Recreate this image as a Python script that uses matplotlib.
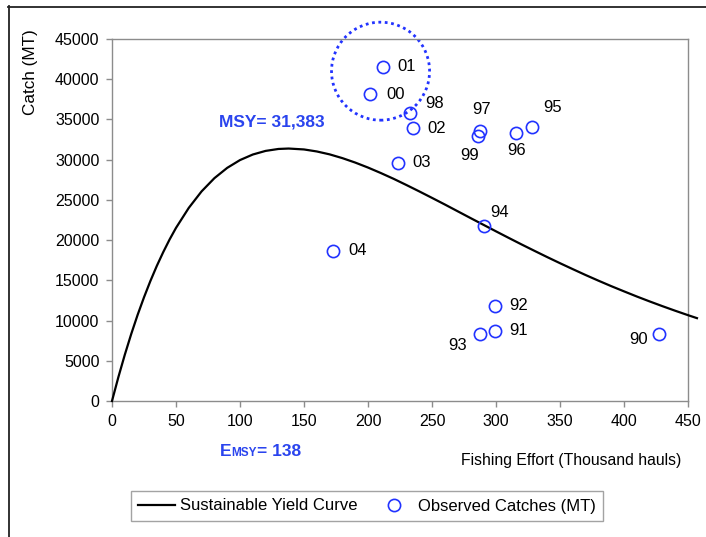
import numpy as np
import matplotlib.pyplot as plt
from matplotlib.patches import Ellipse
from matplotlib.lines import Line2D

plt.rcParams['font.family'] = ['Liberation Sans', 'DejaVu Sans']

# sustainable yield curve
curve_effort = [0, 5, 10, 15, 20, 25, 30, 35, 40, 45, 50, 60, 70, 80, 90, 100,
                110, 120, 130, 138, 150, 160, 170, 180, 190, 200, 210, 220,
                230, 240, 250, 260, 270, 280, 290, 300, 310, 320, 330, 340,
                350, 360, 370, 380, 390, 400, 410, 420, 430, 440, 450, 457]
curve_catch = [0, 2980, 5750, 8320, 10700, 12890, 14920, 16790, 18500, 20080,
               21520, 24010, 26060, 27700, 28980, 29950, 30640, 31090, 31330,
               31383, 31270, 31020, 30660, 30190, 29640, 29020, 28340, 27620,
               26850, 26060, 25250, 24430, 23590, 22750, 21920, 21090, 20270,
               19460, 18670, 17890, 17130, 16390, 15660, 14960, 14280, 13630,
               12990, 12380, 11790, 11220, 10670, 10300]

# observed catches by year
years = ['01', '00', '98', '02', '97', '99', '96', '95', '03', '94',
         '04', '92', '91', '93', '90']
obs_effort = [211.5, 201.6, 232.8, 234.9, 287.5, 286.2, 315.6, 328.1, 223.2,
              290.9, 172.7, 299.2, 299.2, 287.5, 427.3]
obs_catch = [41560, 38130, 35840, 33900, 33600, 32940, 33280, 34060, 29630,
             21800, 18690, 11810, 8740, 8290, 8330]

msy = 31383
e_msy = 138

x_ticks = [0, 50, 100, 150, 200, 250, 300, 350, 400, 450]
y_ticks = [0, 5000, 10000, 15000, 20000, 25000, 30000, 35000, 40000, 45000]

# label offsets in pixels (dx, dy down) and alignment
label_pos = {
    '01': (15, 0, 'left'), '00': (16, 0, 'left'), '98': (15, -9, 'left'),
    '02': (15, 0, 'left'), '97': (2, -21, 'center'), '99': (-9, 19, 'center'),
    '96': (1, 17, 'center'), '95': (21, -20, 'center'), '03': (15, 0, 'left'),
    '94': (6, -13, 'left'), '04': (15, 0, 'left'), '92': (14, 0, 'left'),
    '91': (14, 0, 'left'), '93': (-13, 11, 'right'), '90': (-11, 6, 'right'),
}

W, H = 706, 537
blue = '#2233ff'
txt_blue = '#2a44ee'
gray = '#8c8c8c'

fig = plt.figure(figsize=(W / 100, H / 100), dpi=100)
ax = fig.add_axes([112 / W, 1 - 401 / H, 576 / W, 362 / H])

ax.plot(curve_effort, curve_catch, color='black', lw=1.6, clip_on=False,
        label='Sustainable Yield Curve', zorder=3)
ax.plot(obs_effort, obs_catch, ls='none', marker='o', ms=8.8, mfc='none',
        mec=blue, mew=1.2, label='Observed Catches (MT)', zorder=4)

for yr, xe, yc in zip(years, obs_effort, obs_catch):
    dx, dy, ha = label_pos[yr]
    ax.annotate(yr, (xe, yc), xytext=(dx * 0.72, -dy * 0.72),
                textcoords='offset points', ha=ha, va='center', fontsize=12)

# dotted circle around recent years
ax.add_patch(Ellipse((209.8, 41000), width=76.6, height=12180, fill=False,
                     ec=blue, lw=2, ls=(0, (1, 1.3)), clip_on=False, zorder=2))

ax.set_xlim(0, 450)
ax.set_ylim(0, 45000)
ax.set_xticks(x_ticks)
ax.set_yticks(y_ticks)
ax.tick_params(direction='out', length=4, width=1, color=gray,
               labelsize=11.5, pad=5)
for s in ax.spines.values():
    s.set_color(gray)
    s.set_linewidth(1)

fig.text(30.7 / W, 1 - 72.5 / H, 'Catch (MT)', rotation=90, ha='center',
         va='center', fontsize=12.3)
fig.text(681 / W, 1 - 461 / H, 'Fishing Effort (Thousand hauls)', ha='right',
         va='center', fontsize=11.3)

fig.text(272 / W, 1 - 122 / H, f'MSY= {msy:,}', ha='center', va='center',
         fontsize=12.5, fontweight='bold', color=txt_blue)
fig.text(220 / W, 1 - 456 / H, 'E', ha='left', va='baseline',
         fontsize=12.5, fontweight='bold', color=txt_blue)
fig.text(231 / W, 1 - 456 / H, 'MSY', ha='left', va='baseline',
         fontsize=8.5, fontweight='bold', color=txt_blue)
fig.text(256.7 / W, 1 - 456 / H, f'= {e_msy}', ha='left', va='baseline',
         fontsize=12.5, fontweight='bold', color=txt_blue)

leg = fig.legend(loc='center', bbox_to_anchor=(367 / W, 1 - 506 / H), ncol=2,
                 fontsize=12, frameon=True, fancybox=False, handlelength=2.2,
                 handletextpad=0.3, columnspacing=1.1, borderpad=0.45)
leg.get_frame().set_edgecolor(gray)
leg.get_frame().set_linewidth(1)

# outer border of the chart area
fig.add_artist(Line2D([8.5 / W, 8.5 / W], [0, 1 - 6 / H], color='#222222', lw=1.3))
fig.add_artist(Line2D([8 / W, 1], [1 - 6.5 / H, 1 - 6.5 / H], color='#222222', lw=1.3))

fig.savefig('out.png', dpi=100)
